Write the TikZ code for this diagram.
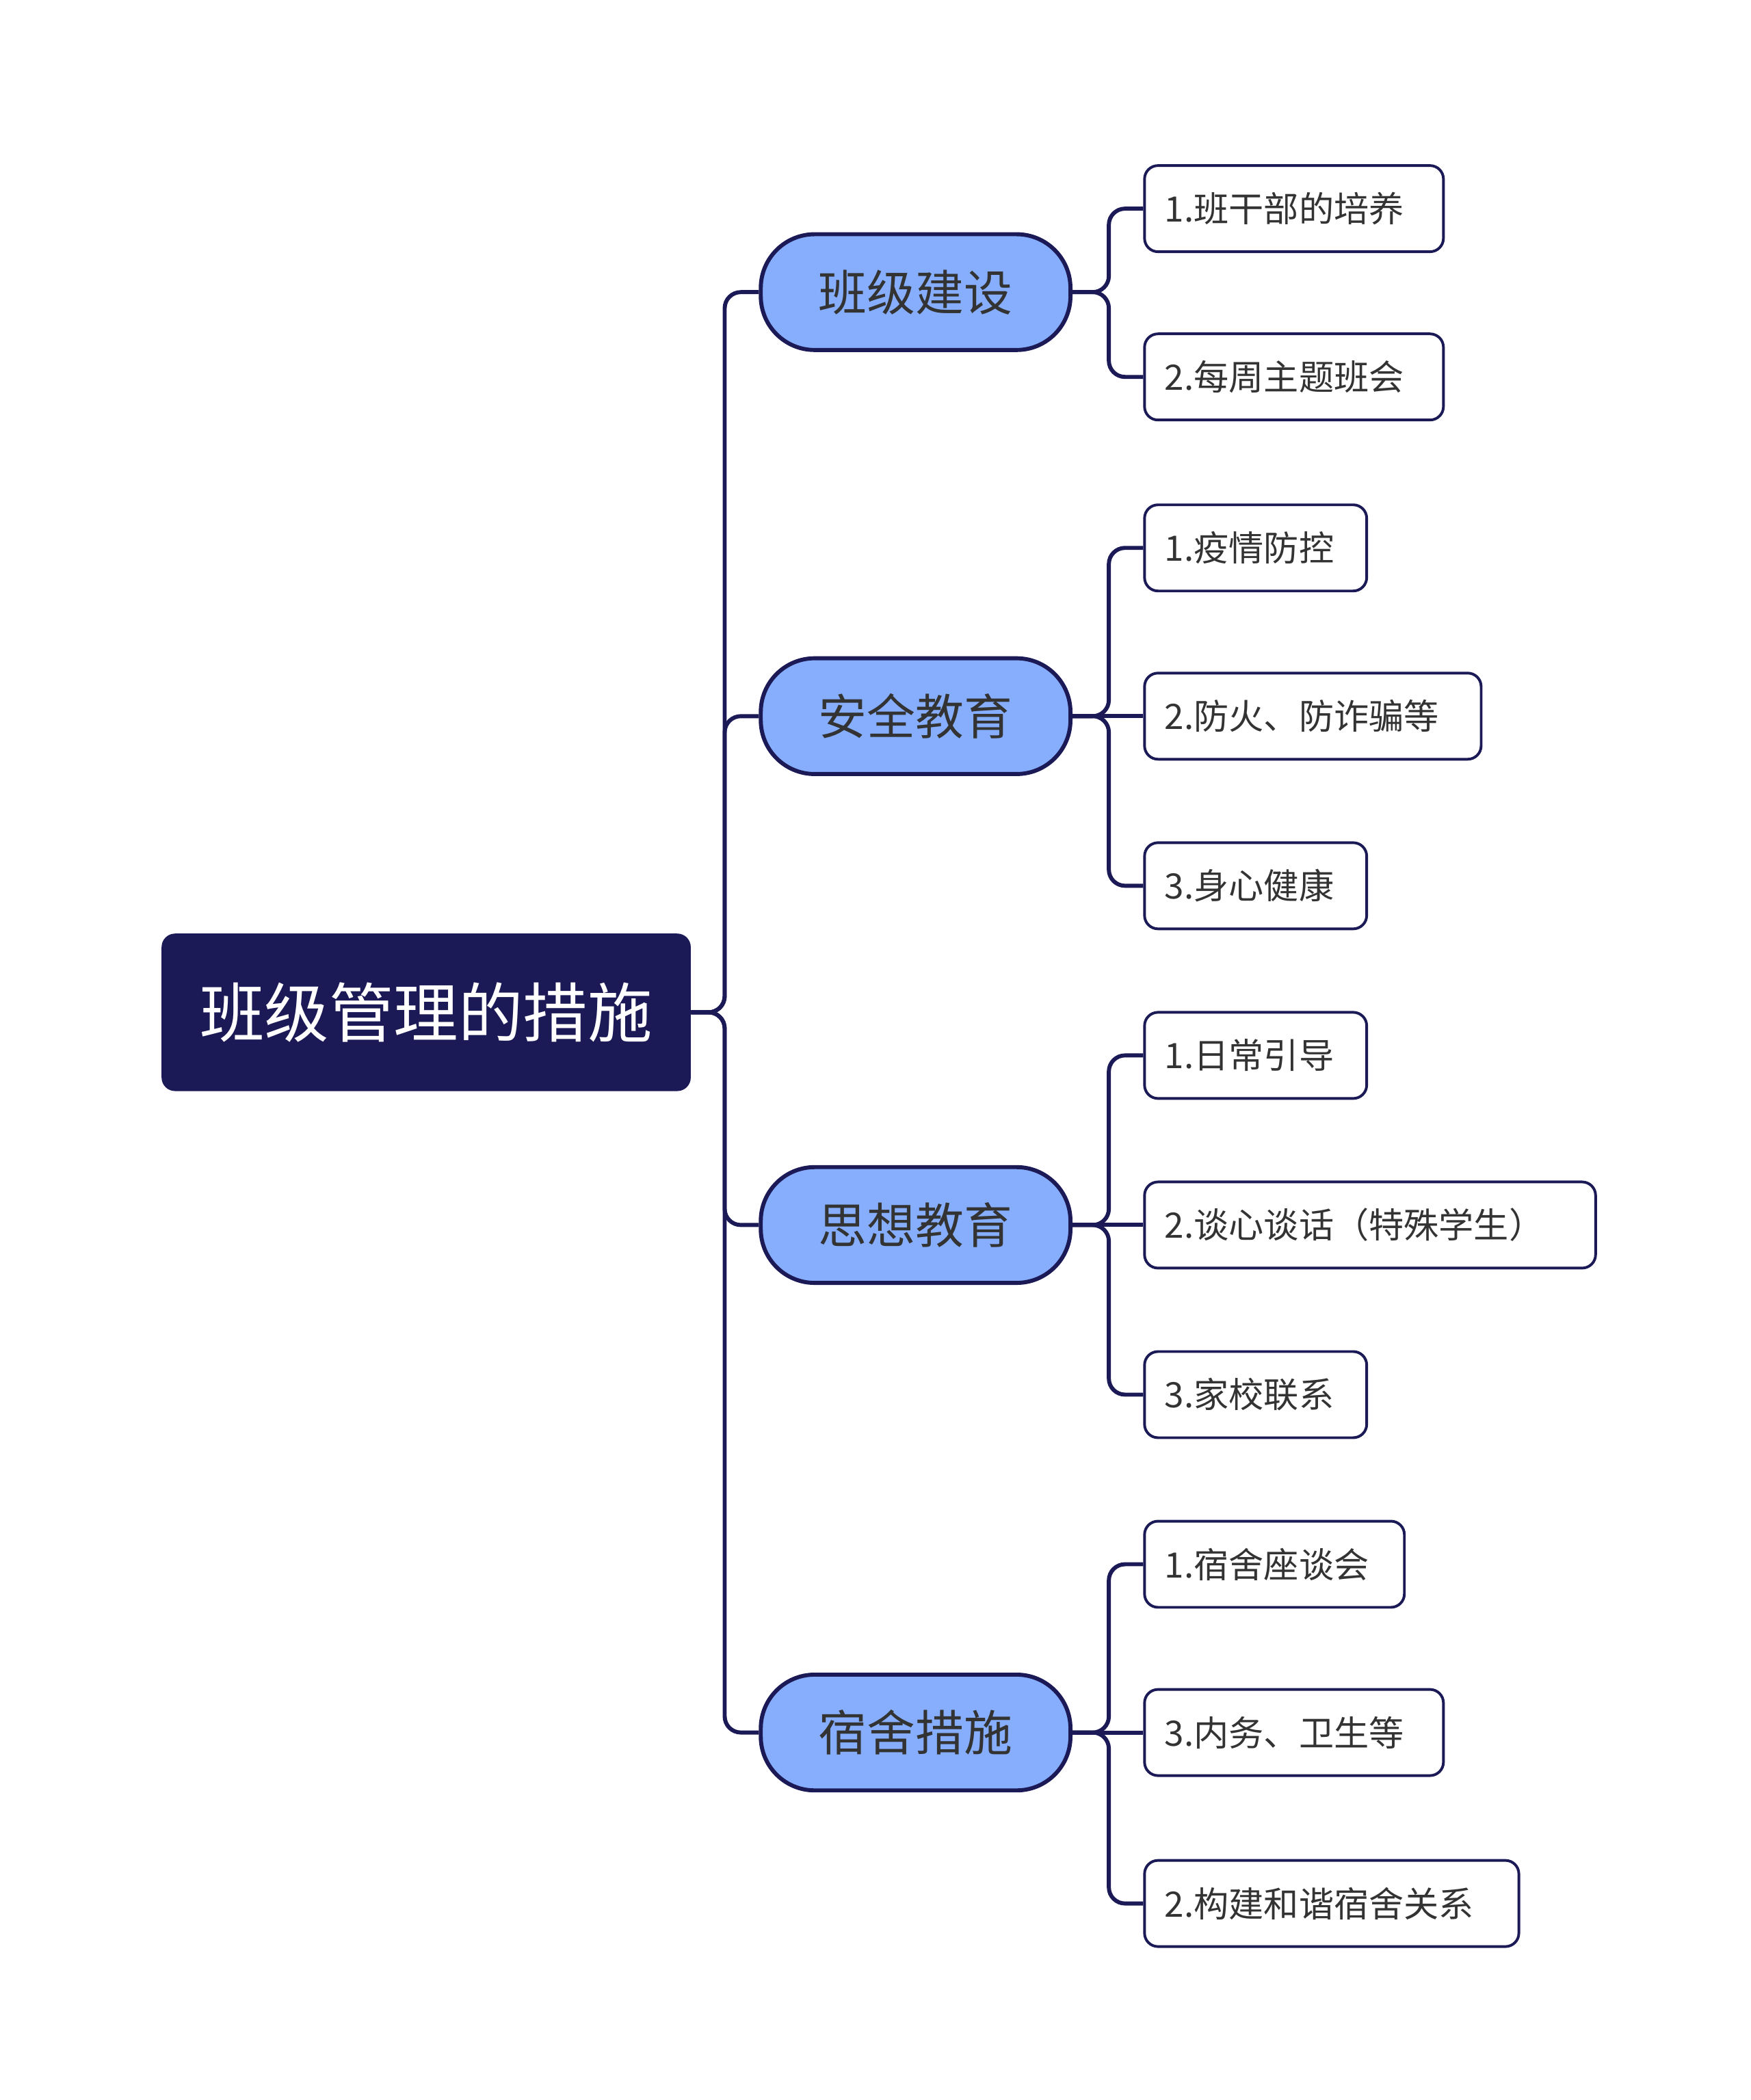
\documentclass[tikz,border=0pt]{standalone}
\usepackage{fontspec}
\setmainfont{Noto Sans CJK SC}
\begin{document}
\begin{tikzpicture}[x=1pt,y=-1pt,
  conn/.style={draw=navy,line width=3pt,rounded corners=12pt},
  rootbox/.style={fill=navy,rounded corners=10pt,text=white,font=\fontsize{48}{56}\selectfont,minimum width=393pt,minimum height=117pt,inner sep=0pt},
  branch/.style={fill=brfill,draw=navy,line width=3pt,rounded corners=40pt,font=\fontsize{36}{42}\selectfont,text=textgray,minimum width=230pt,minimum height=86pt,inner sep=0pt},
  leaf/.style={fill=white,draw=navy,line width=2pt,rounded corners=10pt,font=\fontsize{26}{30}\selectfont,text=textgray,anchor=west,minimum height=64pt,inner xsep=15pt,align=left}]
\definecolor{navy}{HTML}{1B1A57}
\definecolor{brfill}{HTML}{86AEFC}
\definecolor{textgray}{HTML}{333333}
\useasboundingbox (0,0) rectangle (1300,1560);
\node[rootbox] (root) at (316.5,752) {班级管理的措施};
\node[branch] (b1) at (680,217) {班级建设};
\node[branch] (b2) at (680,532) {安全教育};
\node[branch] (b3) at (680,910) {思想教育};
\node[branch] (b4) at (680,1287) {宿舍措施};
\foreach \n/\y/\w/\t in {c11/155/222/1.班干部的培养, c12/280/222/2.每周主题班会,
  c21/407/165/1.疫情防控, c22/532/250/2.防火、防诈骗等, c23/658/165/3.身心健康,
  c31/784/165/1.日常引导, c32/910/335/2.谈心谈话（特殊学生）, c33/1036/165/3.家校联系,
  c41/1162/193/1.宿舍座谈会, c42/1287/222/3.内务、卫生等, c43/1414/278/2.构建和谐宿舍关系}
  \node[leaf,text width=\w pt-30pt] (\n) at (849,\y) {\t};
\foreach \b in {b1,b2,b3,b4} \draw[conn] (root.east) -- ++(25,0) |- (\b.west);
\foreach \b/\c in {b1/c11,b1/c12,b2/c21,b2/c23,b3/c31,b3/c33,b4/c41,b4/c43}
  \draw[conn] (\b.east) -- ++(27,0) |- (\c.west);
\foreach \b/\c in {b2/c22,b3/c32,b4/c42}
  \draw[conn] (\b.east) -- (\c.west);
\end{tikzpicture}
\end{document}
